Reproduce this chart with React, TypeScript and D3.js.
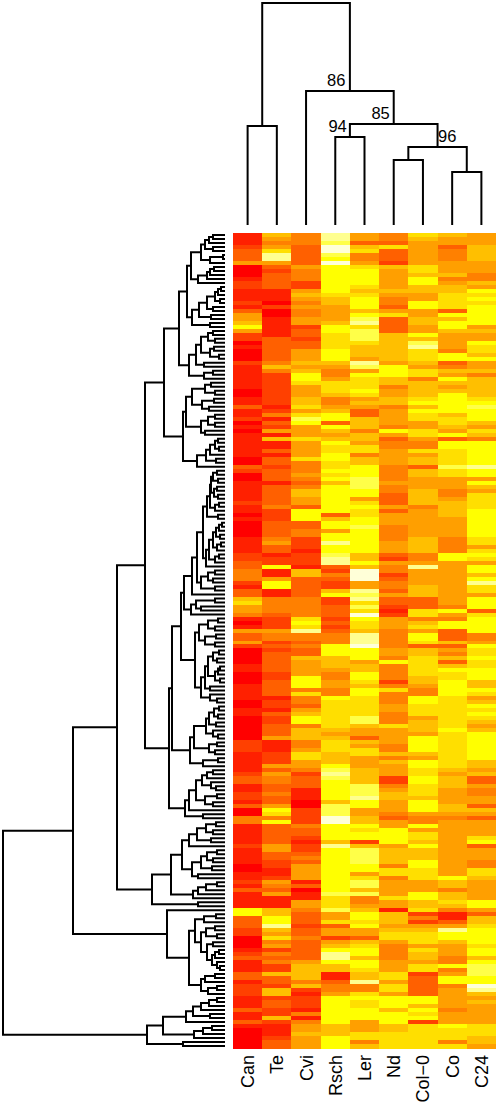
import React from "react";
import * as d3 from "d3";

// Accessions, left to right, with the heat level of each row (0 red, 8 yellow, B near white).
const accessions = ["Can", "Te", "Cvi", "Rsch", "Ler", "Nd", "Col\u22120", "Co", "C24"];

const levelsCan = [
  "111233350001221112135568522010002",
  "1111110011" + "3112010" + "111111" + "00" + "3200" + "11111" + "2",
  "1101" + "0000" + "1111" + "22" + "33" + "444" + "2" + "1" + "33" + "6" + "7" + "55" + "4" + "1" + "0" + "1" + "5" + "33" + "5",
  "2" + "0000" + "11" + "000" + "1111" + "00" + "11" + "000000" + "222" + "11111" + "2" + "33",
  "11" + "22" + "1" + "3" + "00" + "44" + "11111" + "2" + "1111" + "00" + "11" + "2" + "1" + "3" + "1111" + "88" + "33",
  "3" + "22" + "000" + "1" + "2" + "3" + "111" + "33" + "1" + "222" + "111" + "3" + "11" + "3" + "1" + "00000",
];
const levelsTe = [
  "65457AA53233331110200111113333334",
  "6422222222" + "12413251611313323331" + "33333",
  "4" + "222" + "3333" + "4" + "5" + "33" + "1" + "22" + "8" + "11" + "5" + "88" + "11" + "4444" + "3" + "222" + "5" + "44" + "2",
  "3" + "2" + "33333" + "22" + "3333" + "1" + "22" + "1" + "3" + "22" + "333" + "5" + "111" + "222" + "5" + "3" + "5" + "44",
  "33" + "4" + "33" + "5" + "8" + "7" + "4" + "8" + "33333" + "55" + "33" + "22" + "11" + "2" + "5" + "4" + "3" + "5" + "111" + "66" + "88",
  "A" + "6" + "5" + "7" + "4" + "5" + "2" + "4" + "3" + "4" + "22" + "6" + "33" + "2" + "66" + "2" + "33" + "22" + "6" + "2" + "111" + "2" + "33",
];
const levelsCvi = [
  "444333335444225654544552332335556",
  "56887555667" + "5798" + "5557" + "55557" + "4445434" + "6655",
  "3" + "888" + "33" + "44" + "222" + "1" + "222" + "1" + "66" + "33333" + "44444" + "7" + "8" + "7" + "A" + "44" + "3",
  "4" + "33" + "6" + "5555" + "888" + "4" + "7" + "44" + "3" + "5" + "6" + "88" + "4" + "666" + "44" + "5" + "77" + "55" + "4" + "2" + "33",
  "3" + "111" + "00" + "2222" + "4" + "33" + "2" + "1" + "22" + "3" + "4" + "3" + "5555" + "1" + "3" + "0" + "11" + "55" + "4" + "333",
  "2" + "33" + "4" + "33333" + "5" + "6666" + "4" + "6" + "2" + "1" + "222" + "1" + "4" + "1" + "4" + "55" + "6" + "555",
];
const levelsRsch = [
  "AA9BB98B" + "888888" + "8766" + "5555" + "688" + "7777" + "888" + "6",
  "54457776445688" + "386568" + "778877" + "8786" + "88888",
  "88" + "3" + "6" + "88" + "5" + "88" + "A" + "88" + "9" + "AA" + "3" + "2" + "4" + "3" + "22" + "6" + "8" + "22" + "333" + "2" + "3" + "2" + "3" + "444",
  "888" + "666" + "5" + "44" + "55" + "44" + "8" + "7777777" + "6" + "5" + "6" + "777" + "666" + "8" + "9" + "A" + "9" + "8",
  "8888" + "6" + "999" + "BB" + "8888" + "6" + "A" + "88888888888" + "9" + "777" + "9" + "55" + "7",
  "3" + "55" + "2" + "5" + "6" + "8" + "AA" + "8" + "66" + "11" + "3" + "44" + "5" + "8888888" + "666" + "888",
];
const levelsLer = [
  "553674457" + "8888" + "767" + "888" + "689A7" + "999" + "76665" + "A",
  "958777" + "87565" + "33" + "666" + "4" + "66" + "5" + "77" + "4" + "66" + "888" + "999" + "88" + "57",
  "8" + "77" + "88" + "9" + "888888" + "66" + "8" + "6" + "BBB" + "55" + "A" + "9" + "A" + "7" + "9" + "7" + "B" + "8" + "77" + "6" + "AAA",
  "B" + "888" + "5" + "66" + "88" + "7" + "6" + "88" + "77777" + "99" + "6" + "55" + "3" + "6" + "5" + "77" + "555" + "6666",
  "999" + "A" + "88" + "55" + "66" + "8" + "7" + "88" + "2" + "6" + "9999" + "88" + "5" + "7" + "99" + "6" + "9" + "44" + "5" + "6" + "88" + "7",
  "8" + "55" + "3" + "6" + "7" + "88" + "6" + "88" + "7" + "66" + "A" + "44" + "7" + "8" + "77" + "888" + "555" + "77" + "4" + "6",
];
const levelsNd = [
  "44373332" + "655555" + "6544" + "357" + "3333" + "6666666" + "5",
  "88866455664" + "5555" + "4" + "8" + "5" + "3" + "44" + "5555" + "4444" + "5" + "44" + "333",
  "5" + "3" + "555" + "4444" + "555" + "3" + "2" + "5" + "44" + "2" + "3" + "44" + "3" + "5" + "33" + "2" + "1" + "2" + "555" + "4444",
  "4" + "55" + "4" + "8" + "4444" + "2" + "4" + "7" + "444" + "55" + "444" + "7" + "5555" + "44" + "6" + "4" + "6" + "555" + "22",
  "4" + "5" + "66" + "555" + "4" + "3" + "55" + "8888" + "5" + "6666" + "4" + "77" + "4" + "5555" + "7" + "55" + "1" + "666",
  "5" + "6" + "77" + "5" + "4444" + "555" + "77" + "5" + "77" + "5" + "888" + "6" + "888" + "66" + "7777",
];
const levelsCol = [
  "76555555" + "7768866" + "55" + "88" + "55" + "66" + "55" + "86" + "9A" + "777" + "6",
  "5774666678" + "6" + "8" + "77" + "55" + "77" + "5" + "44" + "7" + "5" + "66" + "3" + "66" + "555" + "6666",
  "4" + "55" + "55555" + "6666" + "44" + "5" + "A" + "5555" + "666" + "333" + "77" + "4" + "6" + "7" + "5" + "88" + "7",
  "3" + "66" + "77777" + "66" + "5" + "44" + "88" + "777" + "5" + "666" + "5" + "8888" + "6" + "5" + "88" + "77" + "88",
  "777" + "6" + "888" + "5" + "44" + "8" + "5" + "77" + "6" + "8" + "666" + "88" + "777" + "555" + "88" + "66" + "7" + "2" + "4" + "2",
  "567775766577" + "233333" + "88" + "68782" + "777777",
];
const levelsCo = [
  "655344455564566" + "7777" + "386886" + "5555" + "4883",
  "4658" + "6" + "5" + "6" + "88888" + "6" + "77" + "6" + "5" + "8" + "3" + "88" + "7777" + "9" + "77" + "555" + "44" + "5" + "6",
  "666" + "55555" + "4444" + "88" + "55555555555" + "4" + "8" + "5" + "4" + "88" + "333" + "6",
  "3546368" + "77" + "8888" + "777777778777777777" + "6566",
  "6" + "5555" + "66" + "5" + "4" + "55555555555555" + "8" + "66" + "4" + "66" + "7" + "6" + "4" + "11" + "3",
  "5" + "A" + "88" + "6" + "555" + "44" + "8" + "4" + "5" + "88" + "4" + "55555" + "4" + "555" + "8" + "777" + "4" + "7",
];
const levelsC24 = [
  "55566665554465878788888" + "5655877685",
  "56466666" + "789" + "888" + "65764" + "888888" + "A" + "88" + "5865" + "777",
  "7" + "8888888" + "77" + "5" + "7" + "8" + "7" + "5" + "88" + "6" + "8" + "A" + "77" + "5" + "888" + "3" + "7" + "8888" + "445",
  "8" + "77" + "8" + "77" + "888" + "66" + "8" + "7" + "5" + "6" + "8" + "7" + "8" + "7" + "6" + "5" + "6" + "8888888" + "66" + "5" + "6" + "33",
  "5" + "44" + "55" + "3" + "6" + "5" + "3" + "5555" + "7" + "8" + "3" + "555" + "44" + "77" + "6" + "55555" + "88" + "5" + "3" + "66",
  "7" + "8888" + "7" + "88" + "6" + "899988" + "BA656" + "55555" + "777" + "66" + "5",
];
const columns = [levelsCan, levelsTe, levelsCvi, levelsRsch, levelsLer, levelsNd, levelsCol, levelsCo, levelsC24];
const chunkRows = [33, 35, 35, 35, 35, 31];

// Row tree: [merge height, child, child], with 0 for a single row.
const topA = [38, [34, [24, [20, [16, [12, 0, 0], 0], [12, 0, 0]], [15, [2, 0, 0], 0]], [27, [18, [15, [11, 0, 0], 0], 0], 0]], [33, [26, [18, [10, [7, [4, 0, 0], 0], [5, 0, 0]], [12, 0, 0]], [14, 0, 0]], [15, 0, 0]]];
const topB = [36, [29, [24, [17, [12, 0, 0], [10, 0, 0]], [15, [11, 0, 0], [6, 0, 0]]], [21, 0, 0]], [21, [12, 0, 0], 0]];
const topC = [39, [33, [20, [14, 0, 0], [10, 0, 0]], [23, [11, 0, 0], [16, 0, 0]]], [24, [17, [10, 0, 0], [10, 0, 0]], [20, 0, 0]]];
const topD = [28, [19, [15, [10, [7, 0, 0], [6, 0, 0]], 0], [9, 0, 0]], 0];
const clusterU = [61, [46, topA, topB], [42, topC, topD]];

const midG = [18, [15, [14, [12, [8, 0, 0], [7, 0, 0]], [11, [8, 0, 0], [7, 0, 0]]], [10, [6, 0, 0], 0]], [7, 0, 0]];
const midH = [19, [16, [12, [9, [6, [3, 0, 0], 0], [5, 0, 0]], [8, [4, 0, 0], 0]], [10, [6, 0, 0], 0]], 0];
const midI = [24, [17, [10, 0, 0], [12, 0, 0]], [10, 0, 0]];
const midJ = [34, [29, [10, 0, 0], [24, 0, 0]], 0];
const midK = [30, [26, [17, [7, 0, 0], [10, 0, 0]], [20, [9, 0, 0], [10, 0, 0]]], [24, [20, [17, [12, [6, 0, 0], [8, 0, 0]], [10, [7, [5, 0, 0], 0], [5, 0, 0]]], [15, 0, 0]], [15, 0, [8, 0, 0]]]];
const midL = [35, [31, [19, [16, [11, [6, 0, 0], [7, 0, 0]], [9, 0, 0]], [12, 0, [7, 0, 0]]], [16, [8, 0, 0], [10, 0, 0]]], [22, [7, 0, 0], 0]];
const midM = [40, [36, [29, [23, [18, [12, 0, 0], 0], [14, 0, [9, 0, 0]]], [20, [8, 0, 0], [12, 0, 0]]], 0], [22, 0, 0]];
const clusterN = [56, [53, [44, [41, [33, [28, [22, midG, midH], midI], 0], midJ], midK], midL], midM];

const lowA = [73, [54, [43, [36, [28, [19, [9, 0, 0], [12, 0, 0]], [14, 0, 0]], 0], [33, [24, [18, [8, 0, 0], [12, 0, 0]], [13, 0, 0]], [27, 0, 0]]], [32, [27, [19, [8, 0, 0], 0], 0], 0]], [27, 0, 0]];
const lowB = [58, 0, [36, [30, [21, [9, 0, 0], 0], [24, [19, [10, 0, 0], [8, 0, 0]], [18, [12, 0, 0], [13, [10, [6, 0, 0], 0], [8, 0, [5, 0, 0]]]]]], [24, [20, [10, 0, 0], 0], [17, [8, 0, 0], 0]]]];
const lowC = [78, [62, [39, [32, [24, [16, [8, 0, 0], 0], 0], [15, 0, 0]], 0], [31, [22, [13, 0, 0], 0], 0]], [42, 0, 0]];
const rowTree = [222, [152, [108, [80, clusterU, clusterN], lowA], lowB], lowC];

// Column tree, same shape, with bootstrap labels beside it.
const colTree = [222, [99, 0, 0], [134, 0, [101, [88, 0, 0], [78, [65, 0, 0], [53, 0, 0]]]]];
const bootstrap = [
  { label: "86", col: 3.03, height: 139 },
  { label: "85", col: 4.55, height: 106 },
  { label: "94", col: 3.08, height: 93 },
  { label: "96", col: 6.83, height: 83.5 },
];

const WIDTH = 498, HEIGHT = 1105;
const fill = d3.scaleLinear<string>().domain([0, 8, 11]).range(["#ff0000", "#ffff00", "#ffffd8"]).interpolate(d3.interpolateRgb as any);

type Placed = { h: number; pos: number; kids: Placed[] };
function place(tree: any, posOf: (i: number) => number): Placed {
  const root = d3.hierarchy<any>(tree, (d) => (Array.isArray(d) ? d.slice(1) : null));
  root.leaves().forEach((l: any, i) => (l.pos = posOf(i)));
  root.eachAfter((n: any) => {
    if (n.children) n.pos = (n.children[0].pos + n.children[1].pos) / 2;
  });
  const conv = (n: any): Placed => ({
    h: n.children ? n.data[0] : 0,
    pos: n.pos,
    kids: (n.children || []).map(conv),
  });
  return conv(root);
}
function links(n: Placed, out: string[], fn: (h: number, p: number) => [number, number]) {
  if (!n.kids.length) return;
  const [a, b] = n.kids;
  const p0 = fn(a.h, a.pos), p1 = fn(n.h, a.pos), p2 = fn(n.h, b.pos), p3 = fn(b.h, b.pos);
  out.push(`M${p0[0]},${p0[1]}L${p1[0]},${p1[1]}L${p2[0]},${p2[1]}L${p3[0]},${p3[1]}`);
  links(a, out, fn);
  links(b, out, fn);
}

export default function App() {
  const rowCount = d3.sum(chunkRows);
  const rowScale = d3.scaleBand<number>().domain(d3.range(rowCount)).range([233, 1048]);
  const colScale = d3.scaleBand<number>().domain(d3.range(accessions.length)).range([233, 496]);
  const rowH = d3.scaleLinear().domain([0, 222]).range([225, 3]);
  const colH = d3.scaleLinear().domain([0, 222]).range([225, 3]);

  const rowPaths: string[] = [];
  links(place(rowTree, (i) => rowScale(i)! + rowScale.bandwidth() / 2), rowPaths, (h, p) => [rowH(h), p]);
  const colPaths: string[] = [];
  links(place(colTree, (i) => colScale(i)! + colScale.bandwidth() / 2), colPaths, (h, p) => [p, colH(h)]);

  const cells: React.ReactNode[] = [];
  columns.forEach((chunks, c) => {
    let text = "";
    chunks.forEach((s, k) => {
      text += s.padEnd(chunkRows[k], s[s.length - 1]).slice(0, chunkRows[k]);
    });
    Array.from(text).forEach((ch, r) => {
      cells.push(
        <rect
          key={c + "-" + r}
          x={colScale(c)}
          y={rowScale(r)}
          width={colScale.bandwidth()}
          height={rowScale.bandwidth() + 0.5}
          fill={fill(parseInt(ch, 16))}
          shapeRendering="crispEdges"
        />
      );
    });
  });

  return (
    <svg
      width={WIDTH}
      height={HEIGHT}
      style={{ position: "absolute", left: 0, top: 0, display: "block", background: "#fff" }}
      fontFamily="'Liberation Sans', Arial, sans-serif"
    >
      {cells}
      <path d={rowPaths.join("")} fill="none" stroke="#000" strokeWidth={2} />
      <path d={colPaths.join("")} fill="none" stroke="#000" strokeWidth={2} />
      {bootstrap.map((b) => (
        <text
          key={b.label}
          x={colScale(0)! + colScale.bandwidth() * (b.col + 0.5)}
          y={colH(b.height)}
          fontSize={16.5}
          textAnchor="middle"
          fill="#000"
        >
          {b.label}
        </text>
      ))}
      {accessions.map((a, i) => (
        <text
          key={a}
          transform={`translate(${colScale(i)! + colScale.bandwidth() / 2 + 6.5},1055) rotate(-90)`}
          fontSize={18}
          textAnchor="end"
          fill="#000"
        >
          {a}
        </text>
      ))}
    </svg>
  );
}
